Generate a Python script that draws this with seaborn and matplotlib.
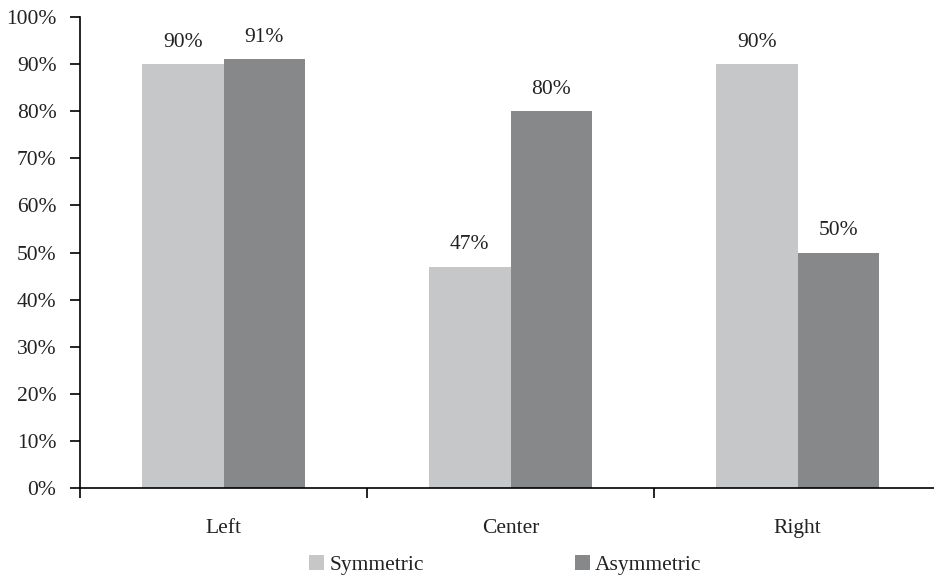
import matplotlib
matplotlib.use("Agg")
import matplotlib.pyplot as plt
import seaborn as sns
import pandas as pd
from matplotlib.ticker import FixedLocator, FuncFormatter

categories = ["Left", "Center", "Right"]
series = ["Symmetric", "Asymmetric"]
symmetric = [90, 47, 90]
asymmetric = [91, 80, 50]
y_ticks = list(range(0, 101, 10))

colors = {"Symmetric": "#c6c7c9", "Asymmetric": "#87888a"}

df = pd.DataFrame({
    "position": categories * 2,
    "group": [series[0]] * 3 + [series[1]] * 3,
    "value": symmetric + asymmetric,
})

sns.set_theme(style="white")
plt.rcParams["font.family"] = ["Liberation Serif", "DejaVu Serif"]
FS = 15.5

fig = plt.figure(figsize=(9.34, 5.76), dpi=100)
ax = fig.add_axes([80 / 934, 1 - 488 / 576, 1 - 80 / 934, (488 - 17) / 576])

sns.barplot(data=df, x="position", y="value", hue="group", order=categories,
            hue_order=series, palette=colors, width=0.57, saturation=1,
            linewidth=0, ax=ax, legend=True)

# value labels above each bar
for container, vals in zip(ax.containers, [symmetric, asymmetric]):
    ax.bar_label(container, labels=[f"{v}%" for v in vals], padding=9,
                 fontsize=FS, color="#222222")

ax.set_ylim(0, 100)
ax.set_xlim(-0.5, 2.5 - 7 / 287)
ax.yaxis.set_major_locator(FixedLocator(y_ticks))
ax.yaxis.set_major_formatter(FuncFormatter(lambda v, _: f"{int(v)}%"))
ax.tick_params(axis="y", which="major", direction="out", length=7, width=1.2,
               color="black", labelsize=FS, labelcolor="#222222", pad=10, left=True)

# category labels centered, boundary ticks between groups
ax.tick_params(axis="x", which="major", length=0, labelsize=FS,
               labelcolor="#222222", pad=22)
ax.xaxis.set_minor_locator(FixedLocator([-0.5, 0.5, 1.5, 2.5]))
ax.tick_params(axis="x", which="minor", direction="out", length=7, width=1.2,
               color="black", bottom=True)

ax.set_xlabel("")
ax.set_ylabel("")
for side in ["top", "right"]:
    ax.spines[side].set_visible(False)
for side in ["left", "bottom"]:
    ax.spines[side].set_color("black")
    ax.spines[side].set_linewidth(1.2)

handles, labels = ax.get_legend_handles_labels()
ax.get_legend().remove()
leg = fig.legend(handles, labels, loc="center left",
                 bbox_to_anchor=(309 / 934, 1 - 565 / 576),
                 ncol=2, frameon=False, fontsize=FS,
                 handlelength=0.7, handleheight=0.7, handletextpad=0.25,
                 columnspacing=7.0, borderaxespad=0, borderpad=0)
for t in leg.get_texts():
    t.set_color("#222222")

fig.savefig("out.png", dpi=100)
